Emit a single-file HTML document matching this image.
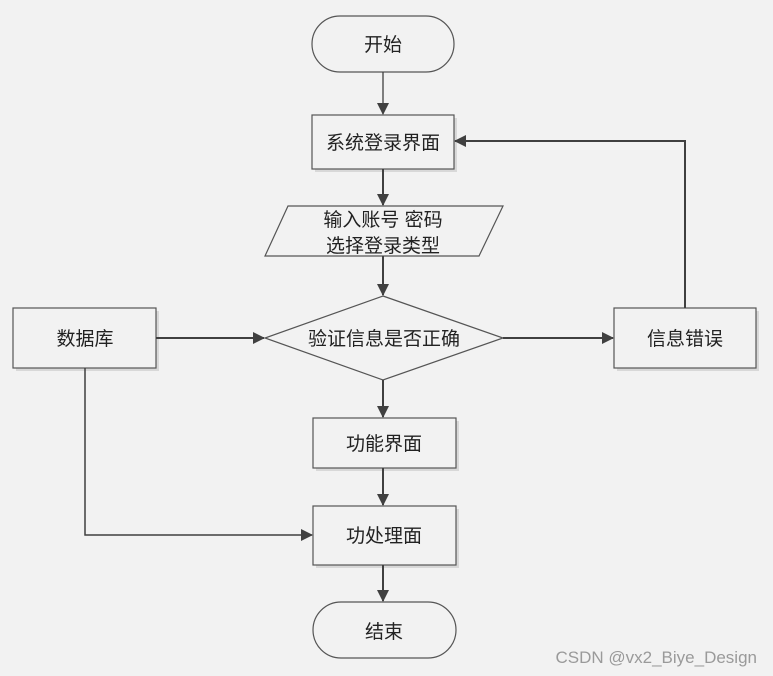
<!DOCTYPE html>
<html><head><meta charset="utf-8"><style>
html,body{margin:0;padding:0;background:#f2f2f2;}
svg{display:block;}
text{font-family:"Liberation Sans","Noto Sans CJK SC",sans-serif;font-size:19px;fill:#222;}
</style></head><body>
<svg width="773" height="676" viewBox="0 0 773 676" xmlns="http://www.w3.org/2000/svg">
<defs>
<marker id="a" markerWidth="12" markerHeight="12" refX="11" refY="6" orient="auto" markerUnits="userSpaceOnUse">
<path d="M0,0 L12,6 L0,12 z" fill="#404040"/></marker>
</defs>
<rect width="773" height="676" fill="#f2f2f2"/>
<g fill="#f2f2f2" stroke="#555" stroke-width="1.2">
<!-- shadows -->
<g stroke="none" fill="#d8d8d8">
<rect x="315" y="118" width="142" height="54"/>
<rect x="16" y="311" width="143" height="60"/>
<rect x="617" y="311" width="142" height="60"/>
<rect x="316" y="421" width="143" height="50"/>
<rect x="316" y="509" width="143" height="59"/>
</g>
<rect x="312" y="16" width="142" height="56" rx="28"/>
<rect x="312" y="115" width="142" height="54"/>
<polygon points="288,206 503,206 479,256 265,256"/>
<polygon points="383,296 503,338 383,380 265,338"/>
<rect x="13" y="308" width="143" height="60"/>
<rect x="614" y="308" width="142" height="60"/>
<rect x="313" y="418" width="143" height="50"/>
<rect x="313" y="506" width="143" height="59"/>
<rect x="313" y="602" width="143" height="56" rx="28"/>
</g>
<g stroke="#404040" stroke-width="2" fill="none">
<line x1="383" y1="72" x2="383" y2="114" stroke-width="1.3" marker-end="url(#a)"/>
<line x1="383" y1="169" x2="383" y2="205" marker-end="url(#a)"/>
<line x1="383" y1="256" x2="383" y2="295" marker-end="url(#a)"/>
<line x1="156" y1="338" x2="264" y2="338" marker-end="url(#a)"/>
<line x1="503" y1="338" x2="613" y2="338" marker-end="url(#a)"/>
<polyline points="685,308 685,141 455,141" marker-end="url(#a)"/>
<line x1="383" y1="380" x2="383" y2="417" marker-end="url(#a)"/>
<line x1="383" y1="468" x2="383" y2="505" marker-end="url(#a)"/>
<line x1="383" y1="565" x2="383" y2="601" marker-end="url(#a)"/>
<polyline points="85,368 85,535 312,535" stroke-width="1.5" marker-end="url(#a)"/>
</g>
<g text-anchor="middle">
<text x="383" y="51">开始</text>
<text x="383" y="149">系统登录界面</text>
<text x="383" y="226">输入账号 密码</text>
<text x="383" y="252">选择登录类型</text>
<text x="384" y="345">验证信息是否正确</text>
<text x="85" y="345">数据库</text>
<text x="685" y="345">信息错误</text>
<text x="384" y="450">功能界面</text>
<text x="384" y="542">功处理面</text>
<text x="384" y="638">结束</text>
</g>
<text x="757" y="663" text-anchor="end" style="font-size:17px;fill:#9a9a9a;">CSDN @vx2_Biye_Design</text>
</svg>
</body></html>
